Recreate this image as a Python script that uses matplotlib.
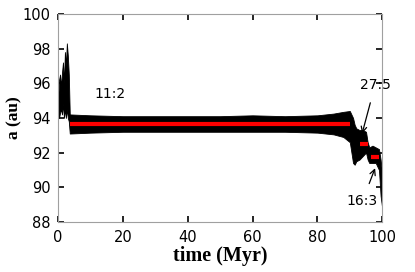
import matplotlib
matplotlib.use('Agg')
import matplotlib.pyplot as plt

# envelope of the semi-major axis cloud
t_env = [0, 0.3, 0.6, 0.9, 1.2, 1.5, 1.8, 2.1, 2.4, 2.7, 3.0, 3.3, 3.6, 3.8,
         10, 20, 30, 40, 50, 60, 70, 80, 85, 88, 90,
         91, 91.5, 92, 93, 94, 95, 95.5, 96, 97, 98, 99, 99.5, 100]
a_upper = [95.0, 96.2, 96.5, 95.8, 96.6, 97.2, 96.0, 97.8, 97.0, 98.3, 97.6, 96.5, 94.2, 94.2,
           94.15, 94.1, 94.1, 94.1, 94.1, 94.15, 94.1, 94.15, 94.25, 94.35, 94.4,
           94.0, 93.6, 93.4, 93.3, 93.3, 93.2, 92.6, 92.3, 92.4, 92.3, 92.2, 91.6, 90.8]
a_lower = [94.2, 94.0, 94.3, 94.5, 94.2, 94.8, 94.0, 94.5, 94.0, 94.5, 94.0, 93.8, 93.1, 93.1,
           93.15, 93.2, 93.2, 93.2, 93.2, 93.2, 93.2, 93.15, 93.05, 92.9, 92.6,
           91.4, 91.3, 91.5, 91.6, 91.8, 92.0, 91.6, 91.4, 91.4, 91.4, 91.0, 89.5, 88.8]

# mean semi-major axis in each resonance (start, end, a)
res_start = [3.6, 93.0, 96.5]
res_end = [90.0, 95.5, 99.0]
res_mean = [93.65, 92.5, 91.75]

plt.rcParams['font.family'] = 'DejaVu Sans'
fig = plt.figure(figsize=(4.15, 2.72), dpi=100)
ax = fig.add_axes([0.14, 0.184, 0.781, 0.765])

ax.fill_between(t_env, a_lower, a_upper, color='black', linewidth=0.6, edgecolor='black')
for s, e, m in zip(res_start, res_end, res_mean):
    ax.plot([s, e], [m, m], color='red', linewidth=3, solid_capstyle='butt')

ax.text(16, 95.4, '11:2', fontsize=10, ha='center', va='center')
ax.annotate('27:5', xy=(93.8, 93.1), xytext=(97.8, 95.9), fontsize=10,
            ha='center', va='center',
            arrowprops=dict(arrowstyle='->', color='black', lw=0.9, shrinkA=6, shrinkB=0))
ax.annotate('16:3', xy=(97.8, 91.1), xytext=(93.9, 89.2), fontsize=10,
            ha='center', va='center',
            arrowprops=dict(arrowstyle='->', color='black', lw=0.9, shrinkA=6, shrinkB=0))

ax.set_xlim(0, 100)
ax.set_ylim(88, 100)
ax.set_xticks([0, 20, 40, 60, 80, 100])
ax.set_yticks([88, 90, 92, 94, 96, 98, 100])
ax.tick_params(direction='in', length=4, width=1.2, top=True, right=True,
               labelsize=10.5, pad=5.5)
for sp in ax.spines.values():
    sp.set_color('#a0a0a0')
    sp.set_linewidth(0.8)

ax.set_xlabel('time (Myr)', family='Liberation Serif', weight='bold', fontsize=14.5, labelpad=1)
ax.set_ylabel('a (au)', family='Liberation Serif', weight='bold', fontsize=12.5, labelpad=0)

fig.savefig('out.png', dpi=100)
